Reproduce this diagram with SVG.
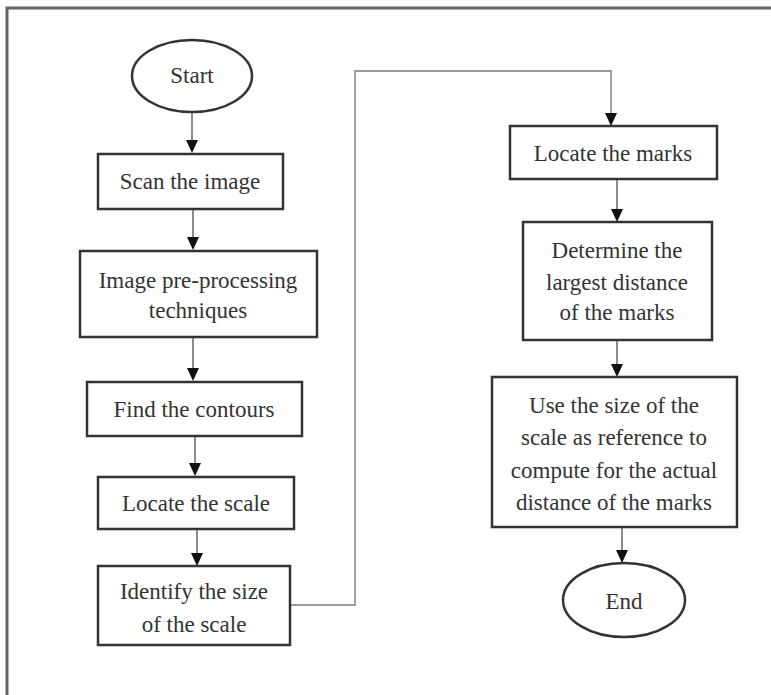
<svg xmlns="http://www.w3.org/2000/svg" width="771" height="695" viewBox="0 0 771 695">
<style>
.box{fill:#fff;stroke:#333;stroke-width:2.5}
.t{font-family:'Liberation Serif','DejaVu Serif',serif;font-size:23px;fill:#333;text-anchor:middle}
.c{fill:none;stroke:#666;stroke-width:1.5}
.cl{fill:none;stroke:#999;stroke-width:1.8}
.ah{fill:#111}
</style>
<rect width="771" height="695" fill="#fff"/>
<path d="M7,695 L7,8 L771,8" fill="none" stroke="#666" stroke-width="3"/>
<g id="connectors">
<line class="c" x1="192" y1="113" x2="192" y2="141"/>
<path class="ah" d="M186,140 L198,140 L192,153 Z"/>
<line class="c" x1="193" y1="209" x2="193" y2="238"/>
<path class="ah" d="M187,237 L199,237 L193,250 Z"/>
<line class="c" x1="193" y1="337" x2="193" y2="369"/>
<path class="ah" d="M187,368 L199,368 L193,381 Z"/>
<line class="c" x1="195" y1="436" x2="195" y2="464"/>
<path class="ah" d="M189,463 L201,463 L195,476 Z"/>
<line class="c" x1="197" y1="529" x2="197" y2="554"/>
<path class="ah" d="M191,553 L203,553 L197,566 Z"/>
<polyline class="cl" points="290,605 355,605 355,71 611,71 611,114"/>
<path class="ah" d="M605,113 L617,113 L611,126 Z"/>
<line class="c" x1="617" y1="179" x2="617" y2="210"/>
<path class="ah" d="M611,209 L623,209 L617,222 Z"/>
<line class="c" x1="617" y1="340" x2="617" y2="365"/>
<path class="ah" d="M611,364 L623,364 L617,377 Z"/>
<line class="c" x1="622" y1="527" x2="622" y2="551"/>
<path class="ah" d="M616,550 L628,550 L622,563 Z"/>
</g>
<g id="start">
<ellipse class="box" cx="192" cy="76" rx="60" ry="36"/>
<text class="t" x="192" y="83">Start</text>
</g>
<g id="scan">
<rect class="box" x="98" y="154" width="185" height="55"/>
<text class="t" x="190" y="189">Scan the image</text>
</g>
<g id="preprocess">
<rect class="box" x="80" y="251" width="237" height="86"/>
<text class="t" x="198" y="288">Image pre-processing</text>
<text class="t" x="198" y="318">techniques</text>
</g>
<g id="contours">
<rect class="box" x="87" y="382" width="215" height="54"/>
<text class="t" x="194" y="417">Find the contours</text>
</g>
<g id="locatescale">
<rect class="box" x="98" y="477" width="196" height="52"/>
<text class="t" x="196" y="511">Locate the scale</text>
</g>
<g id="identify">
<rect class="box" x="98" y="566" width="192" height="79"/>
<text class="t" x="194" y="599">Identify the size</text>
<text class="t" x="194" y="632">of the scale</text>
</g>
<g id="locatemarks">
<rect class="box" x="510" y="126" width="207" height="53"/>
<text class="t" x="613" y="161">Locate the marks</text>
</g>
<g id="determine">
<rect class="box" x="523" y="222" width="189" height="118"/>
<text class="t" x="617" y="258">Determine the</text>
<text class="t" x="617" y="290">largest distance</text>
<text class="t" x="617" y="320">of the marks</text>
</g>
<g id="compute">
<rect class="box" x="492" y="377" width="245" height="150"/>
<text class="t" x="614" y="413">Use the size of the</text>
<text class="t" x="614" y="445">scale as reference to</text>
<text class="t" x="614" y="478">compute for the actual</text>
<text class="t" x="614" y="510">distance of the marks</text>
</g>
<g id="end">
<ellipse class="box" cx="624" cy="600" rx="61" ry="37"/>
<text class="t" x="624" y="609">End</text>
</g>
</svg>
